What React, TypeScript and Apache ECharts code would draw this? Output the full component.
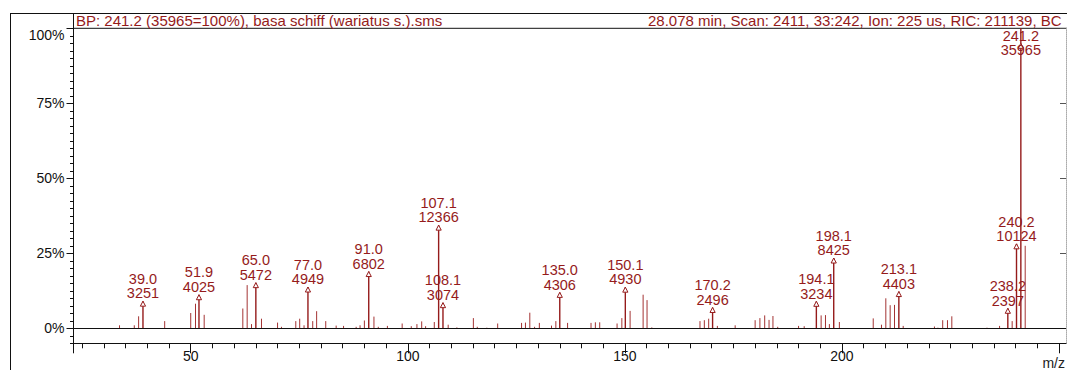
import React, { useEffect, useRef } from "react";
import * as echarts from "echarts";

// ---------- data ----------
const BASE_PEAK_COUNTS = 35965;

// labelled peaks: m/z and absolute intensity (counts)
const labeledMz = [39.0, 51.9, 65.0, 77.0, 91.0, 107.1, 108.1, 135.0, 150.1, 170.2, 194.1, 198.1, 213.1, 238.2, 240.2, 241.2];
const labeledCounts = [3251, 4025, 5472, 4949, 6802, 12366, 3074, 4306, 4930, 2496, 3234, 8425, 4403, 2397, 10124, 35965];

// other (unlabelled) peaks: m/z and relative intensity (%)
const otherMz = [
  33.6, 37.0, 38.0, 44.0, 50.0, 51.1, 53.1, 62.0, 63.0, 64.0, 66.3, 70.0, 70.9, 74.2, 75.1, 76.1, 78.1, 79.0,
  81.1, 83.5, 85.2, 88.1, 89.0, 90.0, 92.2, 93.2, 95.3, 98.7, 100.8, 102.1, 103.2, 104.1, 106.1, 109.3, 111.3,
  115.1, 116.0, 118.2, 120.7, 126.2, 127.1, 128.1, 129.2, 130.3, 133.1, 134.1, 136.8, 142.2, 143.2, 144.2,
  148.2, 149.3, 151.2, 154.2, 155.1, 156.2, 167.3, 168.3, 169.3, 171.3, 175.4, 180.0, 181.1, 182.2, 183.2,
  184.1, 185.2, 190.0, 191.3, 195.2, 196.2, 197.1, 199.4, 207.2, 209.1, 210.1, 211.1, 212.1, 214.1, 221.3,
  222.1, 223.2, 224.3, 225.3, 233.4, 236.3, 239.2, 242.2,
];
const otherPct = [
  1.0, 1.0, 4.0, 2.4, 5.1, 8.2, 4.5, 6.6, 14.4, 1.4, 3.2, 1.9, 0.5, 2.4, 3.2, 1.0, 2.4, 5.7,
  2.4, 0.9, 0.8, 0.5, 1.0, 2.6, 3.9, 0.5, 0.8, 1.6, 0.7, 1.4, 2.3, 0.7, 2.1, 1.2, 0.3,
  3.4, 0.5, 0.2, 1.6, 1.8, 1.9, 5.2, 0.5, 1.8, 0.9, 2.4, 1.8, 1.8, 2.0, 2.0,
  1.6, 3.4, 5.8, 11.2, 9.4, 0.3, 2.4, 2.7, 3.2, 0.8, 1.0, 2.7, 3.4, 4.3, 2.8,
  4.1, 0.5, 0.8, 0.7, 4.3, 4.4, 1.4, 2.1, 3.3, 1.2, 10.0, 7.7, 7.8, 0.8, 0.6,
  0.2, 2.7, 2.7, 4.0, 0.2, 0.8, 2.4, 27.5,
];

// axes
const X_MIN = 23.0;
const X_MAX = 251.6;
const Y_MIN = -5;
const Y_MAX = 100;
const xMajorTicks = [50, 100, 150, 200, 250];
const xLabelValues = [50, 100, 150, 200];
const xMinorTicks = [25, 30, 35, 40, 45, 55, 60, 65, 70, 75, 80, 85, 90, 95, 105, 110, 115, 120, 125, 130, 135, 140, 145, 155, 160, 165, 170, 175, 180, 185, 190, 195, 205, 210, 215, 220, 225, 230, 235, 240, 245];
const yMajorTicks = [0, 25, 50, 75, 100];
const yMinorTicks = [-5, -2.5, 0, 2.5, 5, 7.5, 10, 12.5, 15, 17.5, 20, 22.5, 25, 27.5, 30, 32.5, 35, 37.5, 40, 42.5, 45, 47.5, 50, 52.5, 55, 57.5, 60, 62.5, 65, 67.5, 70, 72.5, 75, 77.5, 80, 82.5, 85, 87.5, 90, 92.5, 95, 97.5, 100];

const headerLeft = "BP: 241.2 (35965=100%), basa schiff (wariatus s.).sms";
const headerRight = "28.078 min, Scan: 2411, 33:242, Ion: 225 us, RIC: 211139, BC";
const xAxisName = "m/z";

// ---------- styles ----------
const FONT = '"Liberation Sans", Arial, Helvetica, sans-serif';
const RED = "#951b1b";
const BAR_RED = "#a43434";
const AXIS = "#111";

export default function App() {
  const ref = useRef<HTMLDivElement>(null);

  useEffect(() => {
    if (!ref.current) return;
    const chart = echarts.init(ref.current, undefined, { renderer: "svg" });

    const otherData = otherMz.map((m, i) => [m, otherPct[i]]);
    const labeledData = labeledMz.map((m, i) => [m, (labeledCounts[i] / BASE_PEAK_COUNTS) * 100, labeledCounts[i]]);

    const option: any = {
      animation: false,
      backgroundColor: "#fff",
      grid: {
        left: 73.5,
        right: 1,
        top: 28.3,
        bottom: 26.7,
        containLabel: false,
        outerBoundsMode: "none",
      },
      xAxis: [
        {
          type: "value",
          min: X_MIN,
          max: X_MAX,
          position: "bottom",
          axisLine: { show: true, onZero: false, lineStyle: { color: AXIS, width: 1 } },
          axisTick: { show: true, length: 10, customValues: [X_MIN, ...xMajorTicks], lineStyle: { color: AXIS, width: 1 } },
          axisLabel: { show: true, customValues: xLabelValues, color: AXIS, fontSize: 14, fontFamily: FONT, margin: 6 },
          splitLine: { show: false },
          name: xAxisName,
          nameLocation: "end",
          nameGap: -1,
          nameTextStyle: { color: "#222", fontSize: 14, fontFamily: FONT, align: "right", verticalAlign: "top", padding: [13, 0, 0, 0] },
        },
        {
          type: "value",
          min: X_MIN,
          max: X_MAX,
          position: "bottom",
          axisLine: { show: false, onZero: false },
          axisTick: { show: true, length: 5, customValues: xMinorTicks, lineStyle: { color: AXIS, width: 1 } },
          axisLabel: { show: false },
          splitLine: { show: false },
        },
      ],
      yAxis: [
        {
          type: "value",
          min: Y_MIN,
          max: Y_MAX,
          position: "left",
          axisLine: { show: true, onZero: false, lineStyle: { color: AXIS, width: 1 } },
          axisTick: { show: true, length: 7, customValues: yMajorTicks, lineStyle: { color: AXIS, width: 1 } },
          axisLabel: {
            show: true,
            customValues: yMajorTicks,
            formatter: (v: number) => `${v}%`,
            color: AXIS,
            fontSize: 14,
            fontFamily: FONT,
            margin: 9,
            verticalAlignMaxLabel: "top",
          },
          splitLine: { show: false },
        },
        {
          type: "value",
          min: Y_MIN,
          max: Y_MAX,
          position: "left",
          axisLine: { show: false, onZero: false },
          axisTick: { show: true, length: 3.5, customValues: yMinorTicks, lineStyle: { color: AXIS, width: 1 } },
          axisLabel: { show: false },
          splitLine: { show: false },
        },
        {
          type: "value",
          min: Y_MIN,
          max: Y_MAX,
          position: "right",
          axisLine: { show: true, onZero: false, lineStyle: { color: "#aaa", width: 1, type: "dotted" } },
          axisTick: { show: true, inside: true, length: 6, customValues: yMajorTicks, lineStyle: { color: "#555", width: 1 } },
          axisLabel: { show: false },
          splitLine: { show: false },
        },
      ],
      series: [
        {
          type: "custom",
          name: "peaks",
          xAxisIndex: 0,
          yAxisIndex: 0,
          data: otherData,
          encode: { x: 0, y: 1 },
          clip: true,
          renderItem: (params: any, api: any) => {
            const m = api.value(0);
            const v = api.value(1);
            const p0 = api.coord([m, 0]);
            const p1 = api.coord([m, v]);
            return {
              type: "line",
              shape: { x1: p0[0], y1: p0[1], x2: p1[0], y2: p1[1] },
              style: { stroke: BAR_RED, lineWidth: 1 },
            };
          },
          markLine: {
            silent: true,
            symbol: ["none", "none"],
            label: { show: false },
            lineStyle: { color: AXIS, type: "solid", width: 1 },
            data: [{ yAxis: 0 }],
          },
        },
        {
          type: "custom",
          name: "labelled peaks",
          xAxisIndex: 0,
          yAxisIndex: 0,
          data: labeledData,
          encode: { x: 0, y: 1 },
          renderItem: (params: any, api: any) => {
            const m = api.value(0);
            const v = api.value(1);
            const cnt = api.value(2);
            const p0 = api.coord([m, 0]);
            const p1 = api.coord([m, v]);
            const cs = params.coordSys;
            const x = p1[0];
            let tip = p1[1];
            let textBottom = tip - 0.5;
            if (textBottom - 29 < cs.y) {
              textBottom = cs.y + 29;
              tip = cs.y + 15;
            }
            return {
              type: "group",
              children: [
                {
                  type: "line",
                  shape: { x1: p0[0], y1: p0[1], x2: p1[0], y2: p1[1] },
                  style: { stroke: RED, lineWidth: 1.4 },
                },
                {
                  type: "polygon",
                  shape: { points: [[x - 2.6, tip + 5], [x, tip], [x + 2.6, tip + 5]] },
                  style: { fill: "#fff", stroke: RED, lineWidth: 1 },
                },
                {
                  type: "text",
                  style: {
                    text: `${m.toFixed(1)}\n${cnt}`,
                    x,
                    y: textBottom,
                    align: "center",
                    verticalAlign: "bottom",
                    lineHeight: 14.5,
                    fill: RED,
                    fontSize: 14.5,
                    fontFamily: FONT,
                  },
                },
              ],
            };
          },
        },
      ],
      graphic: [
        { type: "line", silent: true, shape: { x1: 10.5, y1: 13.5, x2: 10.5, y2: 370 }, style: { stroke: AXIS, lineWidth: 1 } },
        { type: "line", silent: true, shape: { x1: 10, y1: 13.5, x2: 1067, y2: 13.5 }, style: { stroke: AXIS, lineWidth: 1 } },
        { type: "line", silent: true, shape: { x1: 73.5, y1: 28.3, x2: 1067, y2: 28.3 }, style: { stroke: AXIS, lineWidth: 1 } },
        { type: "line", silent: true, shape: { x1: 73.5, y1: 13.5, x2: 73.5, y2: 28.3 }, style: { stroke: AXIS, lineWidth: 1 } },
        {
          type: "text",
          silent: true,
          x: 76,
          y: 20.5,
          style: { text: headerLeft, fill: RED, fontSize: 15, fontFamily: FONT, align: "left", verticalAlign: "middle" },
        },
        {
          type: "text",
          silent: true,
          x: 648,
          y: 20.5,
          style: { text: headerRight, fill: RED, fontSize: 15, fontFamily: FONT, align: "left", verticalAlign: "middle" },
        },
      ],
    };

    chart.setOption(option);
    return () => chart.dispose();
  }, []);

  return (
    <div
      ref={ref}
      style={{ position: "fixed", left: 0, top: 0, width: 1067, height: 370, background: "#fff" }}
    />
  );
}
